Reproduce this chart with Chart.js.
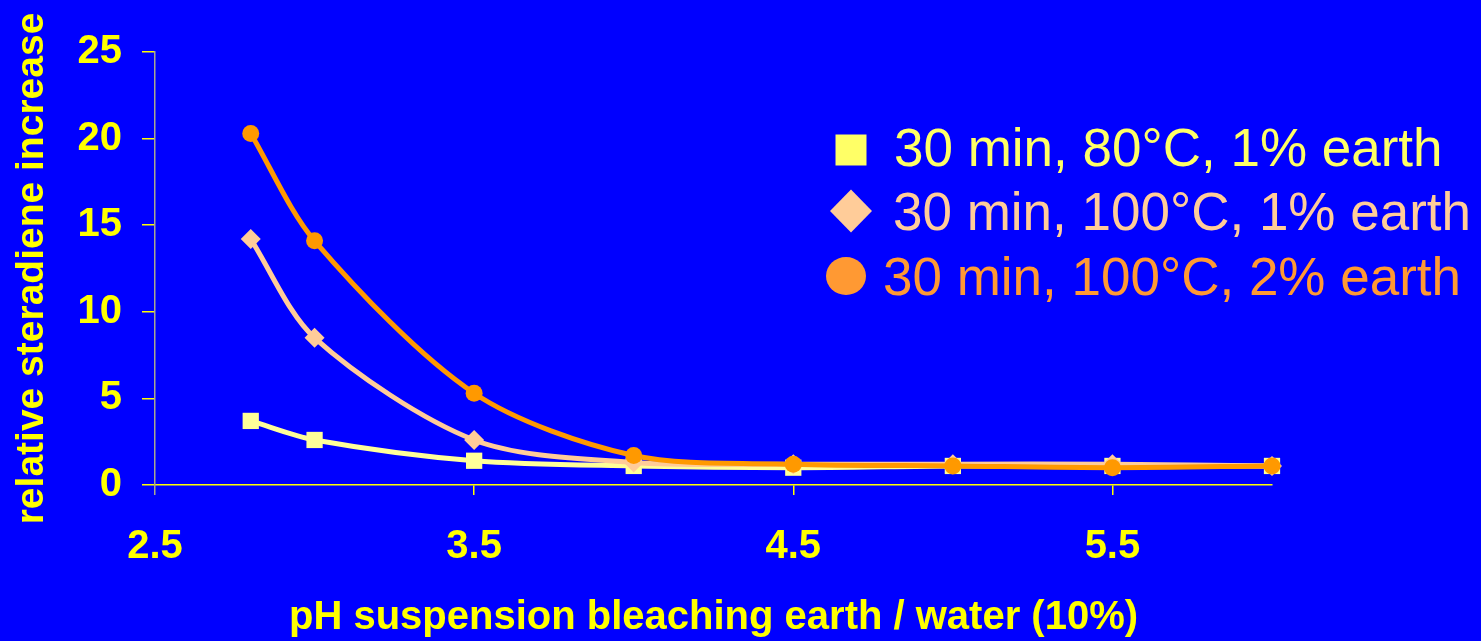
<!DOCTYPE html>
<html>
<head>
<meta charset="utf-8">
<title>relative steradiene increase vs pH</title>
<script src="https://cdn.jsdelivr.net/npm/chart.js@4/dist/chart.umd.min.js"></script>
<style>
  html, body { margin: 0; padding: 0; background: #0000ff; }
  #chart { display: block; }
</style>
</head>
<body>
<canvas id="chart" width="1481" height="641"></canvas>
<script>
// pH of the bleaching earth / water suspension
const phValues = [2.8, 3.0, 3.5, 4.0, 4.5, 5.0, 5.5, 6.0];

// relative steradiene increase per run
const run80c1pct = [3.7, 2.6, 1.4, 1.1, 1.0, 1.1, 1.1, 1.1];
const run100c1pct = [14.2, 8.5, 2.6, 1.3, 1.2, 1.2, 1.2, 1.1];
const run100c2pct = [20.3, 14.1, 5.3, 1.7, 1.2, 1.1, 1.0, 1.1];

const seriesLabels = ['30 min, 80°C, 1% earth', '30 min, 100°C, 1% earth', '30 min, 100°C, 2% earth'];
const xTicks = [2.5, 3.5, 4.5, 5.5];
const yTicks = [0, 5, 10, 15, 20, 25];

const yellow = '#ffff00';
const axisGray = '#a8a890';
const fontFamily = '"Liberation Sans", Arial, sans-serif';

function points(ys) {
    return ys.map(function (y, i) { return {x: phValues[i], y: y}; });
}

// legend drawn in the empty upper right part of the plot
const legendRows = [
    {text: seriesLabels[0], color: '#ffff66', shape: 'square', mx: 851, my: 150, tx: 894, ty: 166},
    {text: seriesLabels[1], color: '#ffcc99', shape: 'diamond', mx: 851, my: 211, tx: 893, ty: 230},
    {text: seriesLabels[2], color: '#ff9933', shape: 'circle', mx: 846, my: 276, tx: 883, ty: 295}
];

const slideLegend = {
    id: 'slideLegend',
    afterDraw: function (chart) {
        const ctx = chart.ctx;
        ctx.save();
        ctx.font = '53px ' + fontFamily;
        ctx.textAlign = 'left';
        ctx.textBaseline = 'alphabetic';
        legendRows.forEach(function (r) {
            ctx.fillStyle = r.color;
            ctx.beginPath();
            if (r.shape === 'square') {
                ctx.rect(r.mx - 15.5, r.my - 15.5, 31, 31);
            } else if (r.shape === 'diamond') {
                ctx.moveTo(r.mx, r.my - 21.5);
                ctx.lineTo(r.mx + 21, r.my);
                ctx.lineTo(r.mx, r.my + 21.5);
                ctx.lineTo(r.mx - 21, r.my);
                ctx.closePath();
            } else {
                ctx.ellipse(r.mx, r.my, 20, 19, 0, 0, Math.PI * 2);
            }
            ctx.fill();
            ctx.fillText(r.text, r.tx, r.ty);
        });
        ctx.restore();
    }
};

new Chart(document.getElementById('chart').getContext('2d'), {
    type: 'line',
    data: {
        datasets: [{
            label: seriesLabels[0],
            data: points(run80c1pct),
            borderColor: '#ffff99',
            backgroundColor: '#ffff99',
            borderWidth: 5,
            pointStyle: 'rect',
            pointRadius: 11.5,
            pointBorderWidth: 0,
            tension: 0.3,
            clip: false,
            order: 3
        }, {
            label: seriesLabels[1],
            data: points(run100c1pct),
            borderColor: '#ffcc99',
            backgroundColor: '#ffcc99',
            borderWidth: 5,
            pointStyle: 'rectRot',
            pointRadius: 10,
            pointBorderWidth: 0,
            tension: 0.3,
            clip: false,
            order: 2
        }, {
            label: seriesLabels[2],
            data: points(run100c2pct),
            borderColor: '#ff9900',
            backgroundColor: '#ff9900',
            borderWidth: 5,
            pointStyle: 'circle',
            pointRadius: 8.5,
            pointBorderWidth: 0,
            tension: 0.3,
            clip: false,
            order: 1
        }]
    },
    options: {
        responsive: false,
        animation: false,
        devicePixelRatio: 1,
        layout: {padding: {top: 52, right: 209, left: 0, bottom: 0}},
        plugins: {
            legend: {display: false},
            tooltip: {enabled: false}
        },
        scales: {
            x: {
                type: 'linear',
                min: 2.5,
                max: 6,
                afterBuildTicks: function (scale) {
                    scale.ticks = xTicks.map(function (v) { return {value: v}; });
                },
                afterFit: function (scale) { scale.height = 156; },
                border: {color: yellow, width: 1.5},
                grid: {
                    drawOnChartArea: false,
                    tickLength: 10,
                    lineWidth: 1.5,
                    tickColor: function (c) { return c.tick && c.tick.value === 2.5 ? axisGray : yellow; }
                },
                ticks: {
                    color: yellow,
                    padding: 28,
                    maxRotation: 0,
                    font: {family: fontFamily, size: 40, weight: 'bold'},
                    callback: function (v) { return v.toFixed(1); }
                },
                title: {
                    display: true,
                    text: 'pH suspension bleaching earth / water (10%)',
                    color: yellow,
                    padding: {top: 0, bottom: -1},
                    font: {family: fontFamily, size: 40, weight: 'bold'}
                }
            },
            y: {
                min: 0,
                max: 25,
                afterBuildTicks: function (scale) {
                    scale.ticks = yTicks.map(function (v) { return {value: v}; });
                },
                afterFit: function (scale) {
                    scale.width = 155;
                    scale.paddingTop = 0;
                    scale.paddingBottom = 0;
                },
                border: {color: axisGray, width: 1.5},
                grid: {
                    drawOnChartArea: false,
                    tickLength: 13,
                    lineWidth: 1.5,
                    tickColor: yellow
                },
                ticks: {
                    color: yellow,
                    padding: 20,
                    font: {family: fontFamily, size: 40, weight: 'bold'}
                },
                title: {
                    display: true,
                    text: 'relative steradiene increase',
                    color: yellow,
                    padding: {top: 9, bottom: 0},
                    font: {family: fontFamily, size: 39, weight: 'bold'}
                }
            }
        }
    },
    plugins: [slideLegend]
});
</script>
</body>
</html>
